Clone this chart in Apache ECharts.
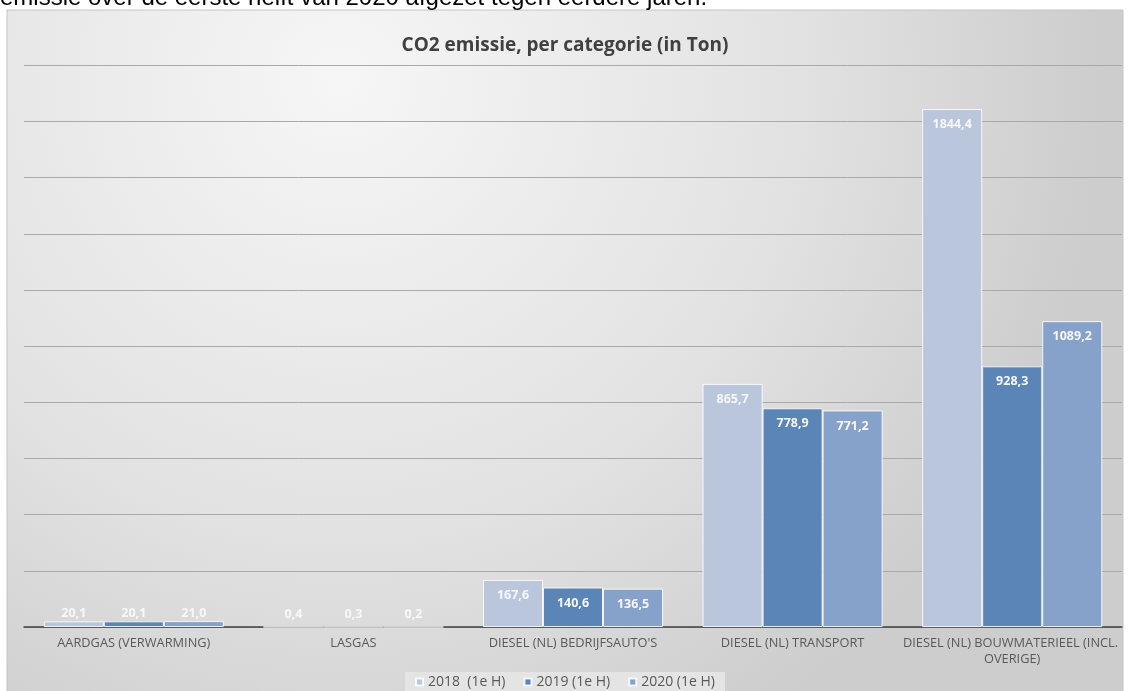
<!DOCTYPE html>
<html><head><meta charset="utf-8">
<script src="https://cdn.jsdelivr.net/npm/echarts@6/dist/echarts.min.js"></script>
<style>html,body{margin:0;padding:0;background:#fff;}#c{width:1130px;height:691px;}</style>
</head><body><div id="c"></div>
<script>
const categories = ["AARDGAS (VERWARMING)", "LASGAS", "DIESEL (NL) BEDRIJFSAUTO'S", "DIESEL (NL) TRANSPORT", "DIESEL (NL) BOUWMATERIEEL (INCL. OVERIGE)"];
const seriesNames = ["2018  (1e H)", "2019 (1e H)", "2020 (1e H)"];
const v2018 = [20.1, 0.4, 167.6, 865.7, 1844.4];
const v2019 = [20.1, 0.3, 140.6, 778.9, 928.3];
const v2020 = [21.0, 0.2, 136.5, 771.2, 1089.2];
const colors = ["#b9c6dc", "#5b84b7", "#87a2ca"];
const titleText = "CO2 emissie, per categorie (in Ton)";
const captionText = "emissie over de eerste helft van 2020 afgezet tegen eerdere jaren.";

const chart = echarts.init(document.getElementById('c'), null, {renderer: 'canvas'});
const fmt = v => v.toFixed(1).replace('.', ',');
function mkData(arr) {
  return arr.map(v => v < 100
    ? {value: v, label: {position: 'insideBottom', distance: 7}}
    : {value: v});
}
const allVals = [v2018, v2019, v2020];
const series = allVals.map((arr, i) => ({
  name: seriesNames[i],
  type: 'bar',
  data: mkData(arr),
  barGap: '0%',
  barCategoryGap: '18%',
  itemStyle: {color: colors[i], borderColor: 'rgba(255,255,255,0.85)', borderWidth: 1},
  label: {
    show: true, position: 'insideTop', distance: 9,
    color: '#f8f8f8', fontFamily: 'Open Sans, sans-serif', fontWeight: 'bold', fontSize: 12.5,
    formatter: p => fmt(p.value)
  },
  z: 3
}));

chart.setOption({
  backgroundColor: '#ffffff',
  animation: false,
  graphic: [
    {type: 'rect', z: -10, silent: true,
     shape: {x: 7, y: 10, width: 1116, height: 690},
     style: {
       fill: new echarts.graphic.RadialGradient(0.3, 0.1, 1.1, [
         {offset: 0, color: '#f6f6f6'},
         {offset: 0.6, color: '#e2e2e2'},
         {offset: 1, color: '#cdcdcd'}
       ]),
       stroke: '#c4c4c4', lineWidth: 1
     }},
    {type: 'text', left: 0, top: -14, z: 10,
     style: {text: captionText, fill: '#000000', font: '24px "Liberation Sans", Arial, sans-serif'}}
  ],
  title: {
    text: titleText, left: 'center', top: 31,
    textStyle: {color: '#404040', fontSize: 19, fontWeight: 'bold', fontFamily: 'Open Sans, sans-serif'}
  },
  legend: {
    bottom: 0, left: 'center',
    itemWidth: 7, itemHeight: 7, itemGap: 18,
    icon: 'rect',
    backgroundColor: '#e4e4e4',
    padding: [3, 10, 2, 10],
    textStyle: {color: '#595959', fontSize: 14, fontFamily: 'Open Sans, sans-serif'},
    data: seriesNames
  },
  grid: {left: 24, right: 8, top: 65.4, bottom: 64, containLabel: false},
  xAxis: {
    type: 'category', data: categories,
    axisLine: {lineStyle: {color: '#404040', width: 1.5}},
    axisTick: {show: false},
    axisLabel: {
      color: '#595959', fontSize: 12.8, fontFamily: 'Open Sans, sans-serif',
      margin: 8, width: 228, overflow: 'break', interval: 0, lineHeight: 16
    }
  },
  yAxis: {
    type: 'value', min: 0, max: 2000, interval: 200,
    axisLabel: {show: false}, axisLine: {show: false}, axisTick: {show: false},
    splitLine: {lineStyle: {color: '#a9a9a9', width: 1}}
  },
  series: series
});
</script></body></html>
